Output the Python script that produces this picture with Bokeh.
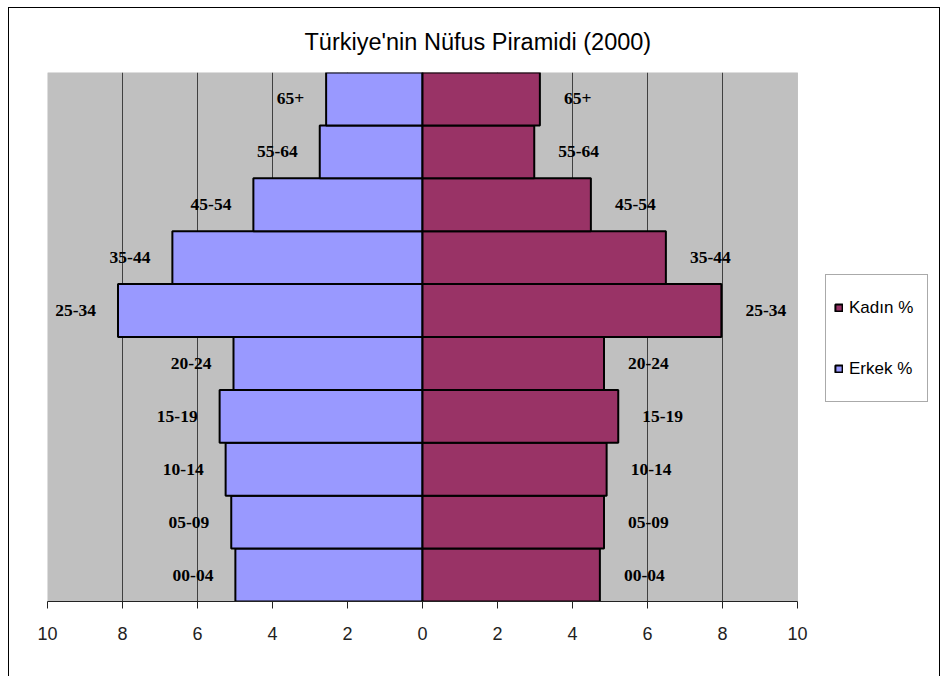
from bokeh.plotting import figure
from bokeh.models import (Range1d, FactorRange, FixedTicker, BoxAnnotation,
                          Legend, LegendItem, Title, ColumnDataSource)
from bokeh.core.properties import value
from bokeh.embed import file_html
from bokeh.resources import INLINE

# ---- data ----
age_groups = ["00-04", "05-09", "10-14", "15-19", "20-24",
              "25-34", "35-44", "45-54", "55-64", "65+"]
erkek = [4.99, 5.10, 5.25, 5.41, 5.04, 8.12, 6.67, 4.51, 2.74, 2.57]
kadin = [4.73, 4.84, 4.91, 5.22, 4.84, 7.97, 6.49, 4.49, 2.98, 3.13]
x_ticks = [-10, -8, -6, -4, -2, 0, 2, 4, 6, 8, 10]
tick_labels = ["10", "8", "6", "4", "2", "0", "2", "4", "6", "8", "10"]
grid_ticks = [-8, -6, -4, -2, 2, 4, 6, 8]
title_text = "Türkiye'nin Nüfus Piramidi (2000)"
series_names = ["Kadın %", "Erkek %"]

# ---- layout ----
FRAME_W = 892
FRAME_H = 529
PX_PER_UNIT = 37.5

src = ColumnDataSource(dict(
    age=age_groups,
    erkek_neg=[-v for v in erkek],
    kadin=kadin,
))

p = figure(
    output_backend="svg", toolbar_location=None,
    frame_width=FRAME_W, frame_height=FRAME_H,
    min_border_left=38, min_border_right=0,
    min_border_top=64, min_border_bottom=75,
    x_range=Range1d(-10, -10 + FRAME_W / PX_PER_UNIT),
    y_range=FactorRange(factors=age_groups),
    background_fill_color="white", border_fill_color="white",
    outline_line_color=None,
)
p.styles = {"margin-left": "8px", "margin-top": "7px",
            "border-left": "1px solid black", "border-top": "1px solid black",
            "border-right": "1px solid black"}

p.title = Title(text=title_text, text_font="Liberation Sans",
                text_font_size="23.5px", text_font_style="normal",
                text_color="black", align="left", offset=257, standoff=36)

# gray plot area
p.add_layout(BoxAnnotation(left=-10, right=10, fill_color="#c0c0c0", fill_alpha=1,
                           line_color="#808080", line_width=1, level="image"))

# grid
p.ygrid.visible = False
p.xgrid.ticker = FixedTicker(ticks=grid_ticks)
p.xgrid.grid_line_color = "#404040"
p.xgrid.grid_line_width = 1
p.xgrid.bounds = (-10, 10)

# axes
p.yaxis.visible = False
ax = p.xaxis[0]
ax.ticker = FixedTicker(ticks=x_ticks)
ax.major_label_overrides = {t: l for t, l in zip(x_ticks, tick_labels)}
ax.bounds = (-10, 10)
ax.minor_tick_line_color = None
ax.major_tick_in = 0
ax.major_tick_out = 7
ax.axis_line_color = "#222222"
ax.major_tick_line_color = "#222222"
ax.major_label_text_font = "Liberation Sans"
ax.major_label_text_font_size = "18px"
ax.major_label_text_color = "#222222"
ax.major_label_standoff = 18

# bars
r_erkek = p.hbar(y="age", left=0, right="erkek_neg", height=1.0, source=src,
                 fill_color="#9999FF", line_color="black", line_width=2)
r_kadin = p.hbar(y="age", left=0, right="kadin", height=1.0, source=src,
                 fill_color="#993366", line_color="black", line_width=2)

# labels
lab_font = value("Liberation Serif")
p.text(x="erkek_neg", y="age", text="age", source=src, text_align="right",
       text_baseline="middle", x_offset=-22, text_font=lab_font,
       text_font_size="17.5px", text_font_style="bold", text_color="black")
p.text(x="kadin", y="age", text="age", source=src, text_align="left",
       text_baseline="middle", x_offset=24, text_font=lab_font,
       text_font_size="17.5px", text_font_style="bold", text_color="black")

# legend
legend = Legend(items=[LegendItem(label=series_names[0], renderers=[r_kadin]),
                       LegendItem(label=series_names[1], renderers=[r_erkek])],
                location=(778, 199))
legend.padding = 8
legend.spacing = 12
legend.glyph_width = 9
legend.glyph_height = 9
legend.label_standoff = 6
legend.label_width = 70
legend.label_height = 49
legend.label_text_font = "Liberation Sans"
legend.label_text_font_size = "17px"
legend.label_text_color = "black"
legend.border_line_color = "#555555"
legend.border_line_width = 1
legend.background_fill_color = "white"
legend.background_fill_alpha = 1
legend.margin = 0
p.add_layout(legend)

open("out.html", "w").write(file_html(p, INLINE))
